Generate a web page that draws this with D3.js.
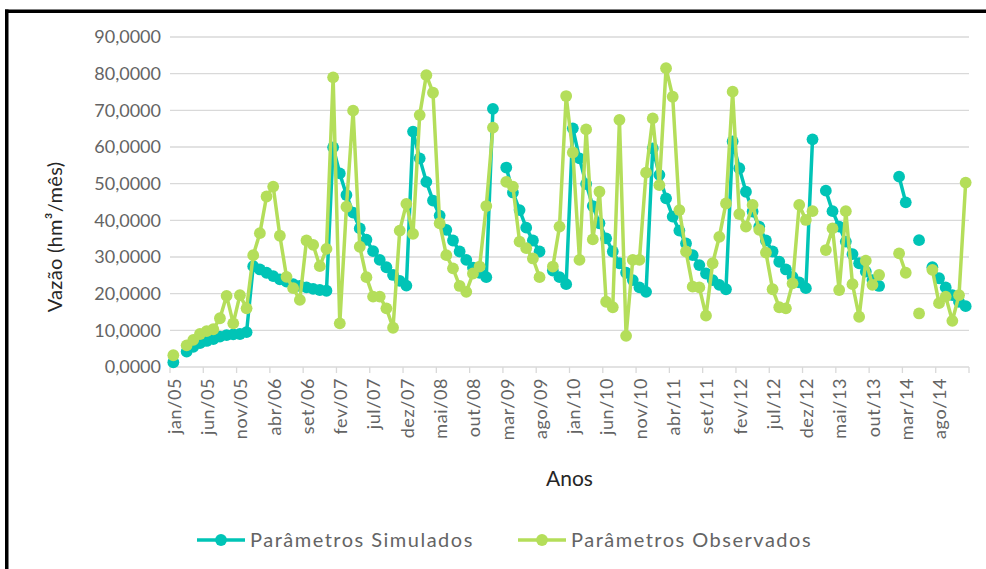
<!DOCTYPE html>
<html>
<head>
<meta charset="utf-8">
<script src="https://cdn.jsdelivr.net/npm/d3@7/dist/d3.min.js"></script>
<style>
  html, body { margin: 0; padding: 0; background: #ffffff; }
  svg { display: block; }
  text { font-family: Lato, "Open Sans", sans-serif; }
</style>
</head>
<body>
<svg id="chart" width="986" height="569"></svg>
<script>
// Monthly categories, jan/05 .. dez/14
const months = ["jan", "fev", "mar", "abr", "mai", "jun", "jul", "ago", "set", "out", "nov", "dez"];
const years = ["05", "06", "07", "08", "09", "10", "11", "12", "13", "14"];
const categories = years.flatMap(y => months.map(m => `${m}/${y}`));

// Labels shown on the x axis (every fifth month)
const xTickLabels = ["jan/05", "jun/05", "nov/05", "abr/06", "set/06", "fev/07", "jul/07", "dez/07",
  "mai/08", "out/08", "mar/09", "ago/09", "jan/10", "jun/10", "nov/10", "abr/11", "set/11",
  "fev/12", "jul/12", "dez/12", "mai/13", "out/13", "mar/14", "ago/14"];

const yTicks = [0, 10, 20, 30, 40, 50, 60, 70, 80, 90];

// Vazão (hm³/mês) — simulated parameters; null = no value for that month
const simulados = [
  1.3, null, 4.2, 5.5, 6.5, 7.1, 7.6, 8.3, 8.7, 8.9, 9.0, 9.5,
  27.5, 26.6, 25.7, 24.8, 23.9, 23.3, 22.6, 22.1, 21.7, 21.3, 21.0, 20.8,
  59.9, 52.8, 46.9, 42.1, 37.8, 34.7, 31.6, 29.2, 27.2, 25.1, 23.5, 22.2,
  64.2, 56.9, 50.5, 45.4, 41.3, 37.4, 34.5, 31.5, 29.2, 27.1, 25.7, 24.5,
  70.4, null, 54.4, 47.6, 42.8, 38.0, 34.5, 31.5, null, 26.3, 24.5, 22.6,
  65.1, 56.9, 49.9, 43.9, 39.2, 35.1, 31.5, 28.3, 25.7, 23.7, 21.7, 20.5,
  59.6, 52.4, 46.0, 41.0, 37.2, 33.7, 30.5, 27.8, 25.5, 23.7, 22.4, 21.2,
  61.5, 54.2, 47.8, 42.4, 38.3, 34.5, 31.5, 28.7, 26.6, 24.6, 23.1, 21.5,
  62.1, null, 48.1, 42.5, 38.3, 34.2, 30.8, 28.3, 26.0, 23.7, 22.1, null,
  null, 51.9, 44.9, null, 34.6, null, 27.2, 24.2, 21.7, 19.6, 17.8, 16.6
];

// Vazão (hm³/mês) — observed parameters
const observados = [
  3.2, null, 5.9, 7.4, 9.0, 9.8, 10.3, 13.3, 19.4, 11.9, 19.6, 16.0,
  30.5, 36.5, 46.5, 49.2, 35.8, 24.6, 21.5, 18.3, 34.5, 33.3, 27.5, 32.2,
  79.0, 11.9, 43.7, 69.9, 32.8, 24.5, 19.2, 19.2, 16.0, 10.7, 37.2, 44.5,
  36.3, 68.7, 79.6, 74.8, 39.2, 30.5, 26.9, 22.1, 20.5, 25.5, 27.4, 43.9,
  65.3, null, 50.5, 49.2, 34.2, 32.4, 29.6, 24.5, null, 27.4, 38.3, 73.9,
  58.5, 29.2, 64.8, 34.8, 47.8, 17.8, 16.3, 67.4, 8.5, 29.2, 29.2, 53.0,
  67.8, 49.6, 81.5, 73.7, 42.8, 31.5, 21.9, 21.7, 14.0, 28.3, 35.5, 44.6,
  75.1, 41.7, 38.3, 44.2, 37.4, 31.2, 21.2, 16.3, 16.0, 22.8, 44.2, 40.1,
  42.5, null, 31.9, 37.8, 21.0, 42.5, 22.6, 13.7, 29.0, 22.4, 25.1, null,
  null, 31.0, 25.7, null, 14.6, null, 26.5, 17.4, 19.2, 12.6, 19.6, 50.3
];

const seriesNames = ["Parâmetros Simulados", "Parâmetros Observados"];
const seriesColors = ["#00c4b6", "#b4de5a"];

const svg = d3.select("#chart");

// Outer frame edges (top and left)
svg.append("rect").attr("x", 5).attr("y", 9.5).attr("width", 981).attr("height", 3.5).attr("fill", "#000");
svg.append("rect").attr("x", 5).attr("y", 9.5).attr("width", 3.5).attr("height", 560).attr("fill", "#000");

const plot = { left: 170, right: 969, top: 37, bottom: 367 };

const x = d3.scaleBand().domain(categories).range([plot.left, plot.right]).padding(0);
const y = d3.scaleLinear().domain([0, 90]).range([plot.bottom, plot.top]);
const cx = c => x(c) + x.bandwidth() / 2;

// Horizontal gridlines
svg.append("g")
  .selectAll("line")
  .data(yTicks.filter(v => v > 0))
  .join("line")
  .attr("x1", plot.left).attr("x2", plot.right)
  .attr("y1", d => y(d)).attr("y2", d => y(d))
  .attr("stroke", "#d9d9d9").attr("stroke-width", 1.3);

// Y axis labels
const yAxis = d3.axisLeft(y)
  .tickValues(yTicks)
  .tickSize(0)
  .tickPadding(9)
  .tickFormat(d => d.toFixed(4).replace(".", ","));
const gy = svg.append("g").attr("transform", `translate(${plot.left},0)`).call(yAxis);
gy.select(".domain").remove();
gy.selectAll("text").attr("fill", "#646464").attr("font-size", 18);

// X axis line and tick marks at category boundaries
const gx = svg.append("g").attr("transform", `translate(0,${plot.bottom})`);
gx.append("line")
  .attr("x1", plot.left).attr("x2", plot.right)
  .attr("stroke", "#d9d9d9").attr("stroke-width", 1.3);
const tickPos = categories.map((c, i) => i).filter(i => i % 5 === 0).map(i => x(categories[i]));
tickPos.push(plot.right);
gx.selectAll("line.tick")
  .data(tickPos)
  .join("line")
  .attr("class", "tick")
  .attr("x1", d => d).attr("x2", d => d)
  .attr("y1", 0).attr("y2", 6)
  .attr("stroke", "#d9d9d9").attr("stroke-width", 1.3);

// X axis labels, rotated
const xAxis = d3.axisBottom(x).tickValues(xTickLabels).tickSize(0);
const gxl = svg.append("g").attr("transform", `translate(0,${plot.bottom})`).call(xAxis);
gxl.select(".domain").remove();
gxl.selectAll("text")
  .attr("fill", "#646464")
  .attr("font-size", 18)
  .attr("letter-spacing", 0.6)
  .attr("text-anchor", "end")
  .attr("dy", "0.35em")
  .attr("transform", "translate(1,11) rotate(-90)")
  .attr("x", 0).attr("y", 0);

// Axis titles
svg.append("text")
  .attr("transform", "translate(62,237) rotate(-90)")
  .attr("text-anchor", "middle")
  .attr("font-size", 20)
  .attr("letter-spacing", 0.3)
  .attr("fill", "#262626")
  .text("Vazão (hm³/mês)");

svg.append("text")
  .attr("x", (plot.left + plot.right) / 2)
  .attr("y", 486)
  .attr("text-anchor", "middle")
  .attr("font-size", 21)
  .attr("fill", "#262626")
  .text("Anos");

// Series: line and markers
const line = d3.line()
  .defined(d => d.v != null)
  .x(d => cx(d.c))
  .y(d => y(d.v));

[simulados, observados].forEach((vals, k) => {
  const pts = vals.map((v, i) => ({ c: categories[i], v }));
  const g = svg.append("g");
  g.append("path")
    .datum(pts)
    .attr("d", line)
    .attr("fill", "none")
    .attr("stroke", seriesColors[k])
    .attr("stroke-width", 3.5)
    .attr("stroke-linejoin", "round");
  g.selectAll("circle")
    .data(pts.filter(d => d.v != null))
    .join("circle")
    .attr("cx", d => cx(d.c))
    .attr("cy", d => y(d.v))
    .attr("r", 5.9)
    .attr("fill", seriesColors[k]);
});

// Legend
const legendItems = [
  { x: 197, name: seriesNames[0], color: seriesColors[0] },
  { x: 518, name: seriesNames[1], color: seriesColors[1] }
];
const lg = svg.append("g").attr("transform", "translate(0,540)");
legendItems.forEach(it => {
  lg.append("line")
    .attr("x1", it.x).attr("x2", it.x + 48)
    .attr("stroke", it.color).attr("stroke-width", 3.5);
  lg.append("circle").attr("cx", it.x + 24).attr("r", 5.9).attr("fill", it.color);
  lg.append("text")
    .attr("x", it.x + 53)
    .attr("dy", "0.35em")
    .attr("font-size", 20)
    .attr("letter-spacing", 1.5)
    .attr("fill", "#646464")
    .text(it.name);
});
</script>
</body>
</html>
